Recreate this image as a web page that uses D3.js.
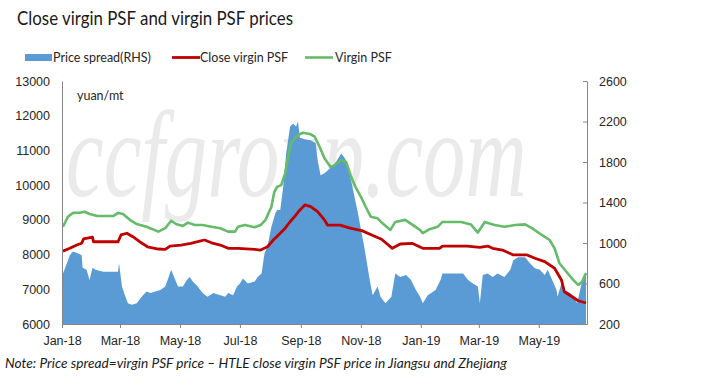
<!DOCTYPE html>
<html>
<head>
<meta charset="utf-8">
<script src="https://cdn.jsdelivr.net/npm/d3@7"></script>
<style>
  body { margin: 0; background: #fff; }
  svg { display: block; font-family: Lato, "Open Sans", sans-serif; }
  .axis text { font-size: 12.5px; fill: #262626; }
  .axis path, .axis line { stroke: #868686; }
</style>
</head>
<body>
<svg id="chart" width="723" height="392"></svg>
<script>
// Virgin PSF (left axis, yuan/mt)
const virginDates = ["2018-01-02","2018-01-07","2018-01-12","2018-01-19","2018-01-24","2018-01-29","2018-02-06","2018-02-16","2018-02-22","2018-02-27",
  "2018-03-04","2018-03-11","2018-03-18","2018-03-28","2018-04-09","2018-04-16","2018-04-22","2018-04-27","2018-05-04","2018-05-09",
  "2018-05-16","2018-05-24","2018-06-02","2018-06-11","2018-06-19","2018-06-26","2018-06-29","2018-07-06","2018-07-16","2018-07-22",
  "2018-07-27","2018-08-02","2018-08-05","2018-08-08","2018-08-12","2018-08-16","2018-08-19","2018-08-22","2018-08-26","2018-08-29",
  "2018-09-03","2018-09-10","2018-09-15","2018-09-20","2018-09-25","2018-10-01","2018-10-04","2018-10-12","2018-10-17","2018-10-22",
  "2018-10-27","2018-11-01","2018-11-06","2018-11-11","2018-11-18","2018-11-23","2018-12-01","2018-12-06","2018-12-16","2018-12-24",
  "2018-12-31","2019-01-03","2019-01-10","2019-01-18","2019-01-23","2019-02-11","2019-02-21","2019-02-28","2019-03-07","2019-03-17",
  "2019-03-27","2019-04-07","2019-04-17","2019-04-24","2019-05-04","2019-05-12","2019-05-17","2019-05-22","2019-05-29","2019-06-05",
  "2019-06-10","2019-06-14","2019-06-18"];
const virginValues = [8800,9090,9200,9205,9235,9170,9110,9110,9110,9200,
  9170,9000,8880,8800,8660,8760,8975,8880,8825,8920,
  8850,8850,8800,8760,8660,8660,8800,8850,8785,8850,
  9000,9380,9810,9955,10000,10340,10820,11205,11350,11445,
  11510,11475,11395,11105,10775,10530,10550,10725,10665,10245,
  9920,9665,9370,9090,9045,8900,8710,8940,9000,8850,
  8710,8620,8730,8800,8940,8940,8865,8635,8940,8850,
  8800,8850,8870,8760,8565,8420,8180,7750,7505,7270,
  7125,7220,7460];

// HTLE close virgin PSF (left axis, yuan/mt)
const closeDates = ["2018-01-02","2018-01-09","2018-01-16","2018-01-21","2018-01-23","2018-02-01","2018-02-02","2018-02-12","2018-02-27","2018-03-02",
  "2018-03-08","2018-03-14","2018-03-21","2018-03-29","2018-04-09","2018-04-16","2018-04-21","2018-05-02","2018-05-12","2018-05-19",
  "2018-05-26","2018-06-02","2018-06-11","2018-06-19","2018-06-29","2018-07-16","2018-07-22","2018-07-29","2018-08-04","2018-08-11",
  "2018-08-16","2018-08-21","2018-08-26","2018-08-31","2018-09-05","2018-09-11","2018-09-18","2018-09-25","2018-09-28","2018-10-11",
  "2018-10-21","2018-11-02","2018-11-12","2018-11-22","2018-12-03","2018-12-11","2018-12-23","2019-01-03","2019-01-20","2019-01-23",
  "2019-02-17","2019-03-02","2019-03-10","2019-03-15","2019-03-25","2019-04-05","2019-04-19","2019-04-27","2019-05-07","2019-05-17",
  "2019-05-24","2019-05-27","2019-06-04","2019-06-10","2019-06-18"];
const closeValues = [8100,8180,8275,8325,8450,8500,8370,8370,8370,8565,
  8615,8515,8370,8225,8160,8150,8245,8275,8325,8370,
  8420,8340,8275,8180,8180,8150,8130,8225,8420,8615,
  8760,8945,9110,9285,9430,9380,9235,9000,8850,8850,
  8760,8690,8565,8440,8180,8305,8325,8180,8180,8245,
  8245,8210,8245,8180,8130,7990,7990,7895,7795,7605,
  7270,6930,6785,6670,6605];

// Price spread (right axis)
const spreadDates = ["2018-01-02","2018-01-06","2018-01-09","2018-01-12","2018-01-17","2018-01-21","2018-01-22","2018-01-26","2018-01-29","2018-02-01",
  "2018-02-04","2018-02-12","2018-02-27","2018-02-28","2018-03-03","2018-03-06","2018-03-09","2018-03-13","2018-03-18","2018-03-23",
  "2018-03-28","2018-04-01","2018-04-06","2018-04-11","2018-04-16","2018-04-19","2018-04-22","2018-04-25","2018-04-29","2018-05-04",
  "2018-05-08","2018-05-11","2018-05-14","2018-05-19","2018-05-24","2018-05-29","2018-06-04","2018-06-11","2018-06-16","2018-06-19",
  "2018-06-24","2018-06-28","2018-07-01","2018-07-04","2018-07-09","2018-07-16","2018-07-19","2018-07-23","2018-07-26","2018-07-29",
  "2018-08-02","2018-08-06","2018-08-08","2018-08-11","2018-08-14","2018-08-17","2018-08-21","2018-08-24","2018-08-27","2018-08-29",
  "2018-08-31","2018-09-05","2018-09-11","2018-09-16","2018-09-18","2018-09-21","2018-09-25","2018-10-01","2018-10-06","2018-10-12",
  "2018-10-16","2018-10-22","2018-10-29","2018-11-05","2018-11-10","2018-11-13","2018-11-18","2018-11-21","2018-11-26","2018-12-02",
  "2018-12-06","2018-12-11","2018-12-17","2018-12-22","2018-12-27","2018-12-31","2019-01-03","2019-01-08","2019-01-16","2019-01-21",
  "2019-01-23","2019-02-13","2019-02-18","2019-02-23","2019-02-28","2019-03-02","2019-03-05","2019-03-10","2019-03-15","2019-03-20",
  "2019-03-27","2019-04-02","2019-04-05","2019-04-10","2019-04-17","2019-04-22","2019-04-27","2019-05-02","2019-05-07","2019-05-10",
  "2019-05-14","2019-05-19","2019-05-20","2019-05-24","2019-05-27","2019-06-02","2019-06-05","2019-06-09","2019-06-12","2019-06-15",
  "2019-06-18"];
const spreadValues = [700,800,880,915,900,880,755,735,635,755,
  735,715,715,800,570,485,405,390,405,470,
  520,505,520,535,570,650,735,665,570,570,
  635,665,620,570,505,470,505,485,470,505,
  485,570,600,650,600,620,665,700,900,965,
  1160,1295,1325,1325,1555,1885,2150,2180,2150,2200,
  2040,2025,2015,1985,1820,1670,1690,1740,1790,1885,
  1835,1620,1295,930,635,485,570,470,405,470,
  700,665,685,635,535,475,405,485,535,635,
  700,700,635,600,570,405,685,700,665,700,
  665,735,830,860,860,800,750,735,685,735,
  650,535,470,600,535,505,470,405,535,665,
  715];

const leftTicks = [6000,7000,8000,9000,10000,11000,12000,13000];
const rightTicks = [200,600,1000,1400,1800,2200,2600];
const monthTicks = ["2018-01-01","2018-03-01","2018-05-01","2018-07-01","2018-09-01","2018-11-01","2019-01-01","2019-03-01","2019-05-01"];

class PsfChart {
  constructor(_config) {
    this.config = {
      parentElement: _config.parentElement,
      left: 62, right: 587, top: 81, bottom: 324
    };
    this.initVis();
  }

  initVis() {
    let vis = this;
    const c = vis.config;
    const parse = d3.timeParse("%Y-%m-%d");

    vis.svg = d3.select(c.parentElement);

    vis.xScale = d3.scaleTime()
        .domain([parse("2018-01-01"), parse("2019-06-19")])
        .range([c.left, c.right]);
    vis.yLeft = d3.scaleLinear().domain([6000, 13000]).range([c.bottom, c.top]);
    vis.yRight = d3.scaleLinear().domain([200, 2600]).range([c.bottom, c.top]);

    vis.spread = spreadDates.map((d, i) => ({ date: parse(d), value: spreadValues[i] }));
    vis.close = closeDates.map((d, i) => ({ date: parse(d), value: closeValues[i] }));
    vis.virgin = virginDates.map((d, i) => ({ date: parse(d), value: virginValues[i] }));
    vis.ticks = monthTicks.map(parse);
  }

  render() {
    let vis = this;
    const c = vis.config;

    // Title
    vis.svg.append("text")
        .attr("x", 17).attr("y", 25)
        .attr("font-size", 20)
        .attr("fill", "#1a1a1a")
        .attr("textLength", 276)
        .attr("lengthAdjust", "spacingAndGlyphs")
        .text("Close virgin PSF and virgin PSF prices");

    // Watermark behind the data, squeezed horizontally
    vis.svg.append("text")
        .attr("transform", "translate(66,196) scale(0.695,1)")
        .attr("font-family", "'Liberation Serif', serif")
        .attr("font-style", "italic")
        .attr("font-size", 122)
        .attr("fill", "#eaeaea")
        .text("ccfgroup.com");

    // Spread area on the right axis
    const area = d3.area()
        .x(d => vis.xScale(d.date))
        .y0(vis.yRight(200))
        .y1(d => vis.yRight(d.value));
    vis.svg.append("path")
        .datum(vis.spread)
        .attr("fill", "#5B9BD5")
        .attr("d", area);

    const line = d3.line()
        .x(d => vis.xScale(d.date))
        .y(d => vis.yLeft(d.value));

    vis.svg.append("path")
        .datum(vis.virgin)
        .attr("fill", "none")
        .attr("stroke", "#66BB6A")
        .attr("stroke-width", 2.6)
        .attr("stroke-linejoin", "round")
        .attr("d", line);

    vis.svg.append("path")
        .datum(vis.close)
        .attr("fill", "none")
        .attr("stroke", "#C00000")
        .attr("stroke-width", 2.8)
        .attr("stroke-linejoin", "round")
        .attr("d", line);

    // Axes
    vis.svg.append("g")
        .attr("class", "axis")
        .attr("transform", `translate(${c.left},0)`)
        .call(d3.axisLeft(vis.yLeft).tickValues(leftTicks).tickFormat(d3.format("d"))
          .tickSize(0).tickPadding(12));

    vis.svg.append("g")
        .attr("class", "axis")
        .attr("transform", `translate(${c.right},0)`)
        .call(d3.axisRight(vis.yRight).tickValues(rightTicks).tickFormat(d3.format("d"))
          .tickSizeInner(-4).tickSizeOuter(0).tickPadding(12));

    vis.svg.append("g")
        .attr("class", "axis")
        .attr("transform", `translate(0,${c.bottom})`)
        .call(d3.axisBottom(vis.xScale).tickValues(vis.ticks)
          .tickFormat(d3.timeFormat("%b-%y")).tickSizeInner(4).tickSizeOuter(0).tickPadding(8));

    // Unit label
    vis.svg.append("text")
        .attr("x", 77).attr("y", 100)
        .attr("font-size", 12.5)
        .attr("fill", "#262626")
        .text("yuan/mt");

    // Legend
    const legend = vis.svg.append("g").attr("font-size", 12.5).attr("fill", "#262626");
    legend.append("rect").attr("x", 25).attr("y", 54).attr("width", 27).attr("height", 7).attr("fill", "#5B9BD5");
    legend.append("text").attr("x", 53).attr("y", 62).text("Price spread(RHS)");
    legend.append("line").attr("x1", 172).attr("x2", 200).attr("y1", 57.5).attr("y2", 57.5)
        .attr("stroke", "#C00000").attr("stroke-width", 2.8);
    legend.append("text").attr("x", 200).attr("y", 62).text("Close virgin PSF");
    legend.append("line").attr("x1", 305).attr("x2", 333).attr("y1", 57.5).attr("y2", 57.5)
        .attr("stroke", "#66BB6A").attr("stroke-width", 2.6);
    legend.append("text").attr("x", 335).attr("y", 62).text("Virgin PSF");

    // Footnote
    vis.svg.append("text")
        .attr("x", 5).attr("y", 368)
        .attr("font-size", 13.5)
        .attr("font-style", "italic")
        .attr("fill", "#1a1a1a")
        .attr("textLength", 502)
        .attr("lengthAdjust", "spacingAndGlyphs")
        .text("Note: Price spread=virgin PSF price \u2013 HTLE close virgin PSF price in Jiangsu and Zhejiang");
  }
}

const chart = new PsfChart({ parentElement: "#chart" });
chart.render();
</script>
</body>
</html>
